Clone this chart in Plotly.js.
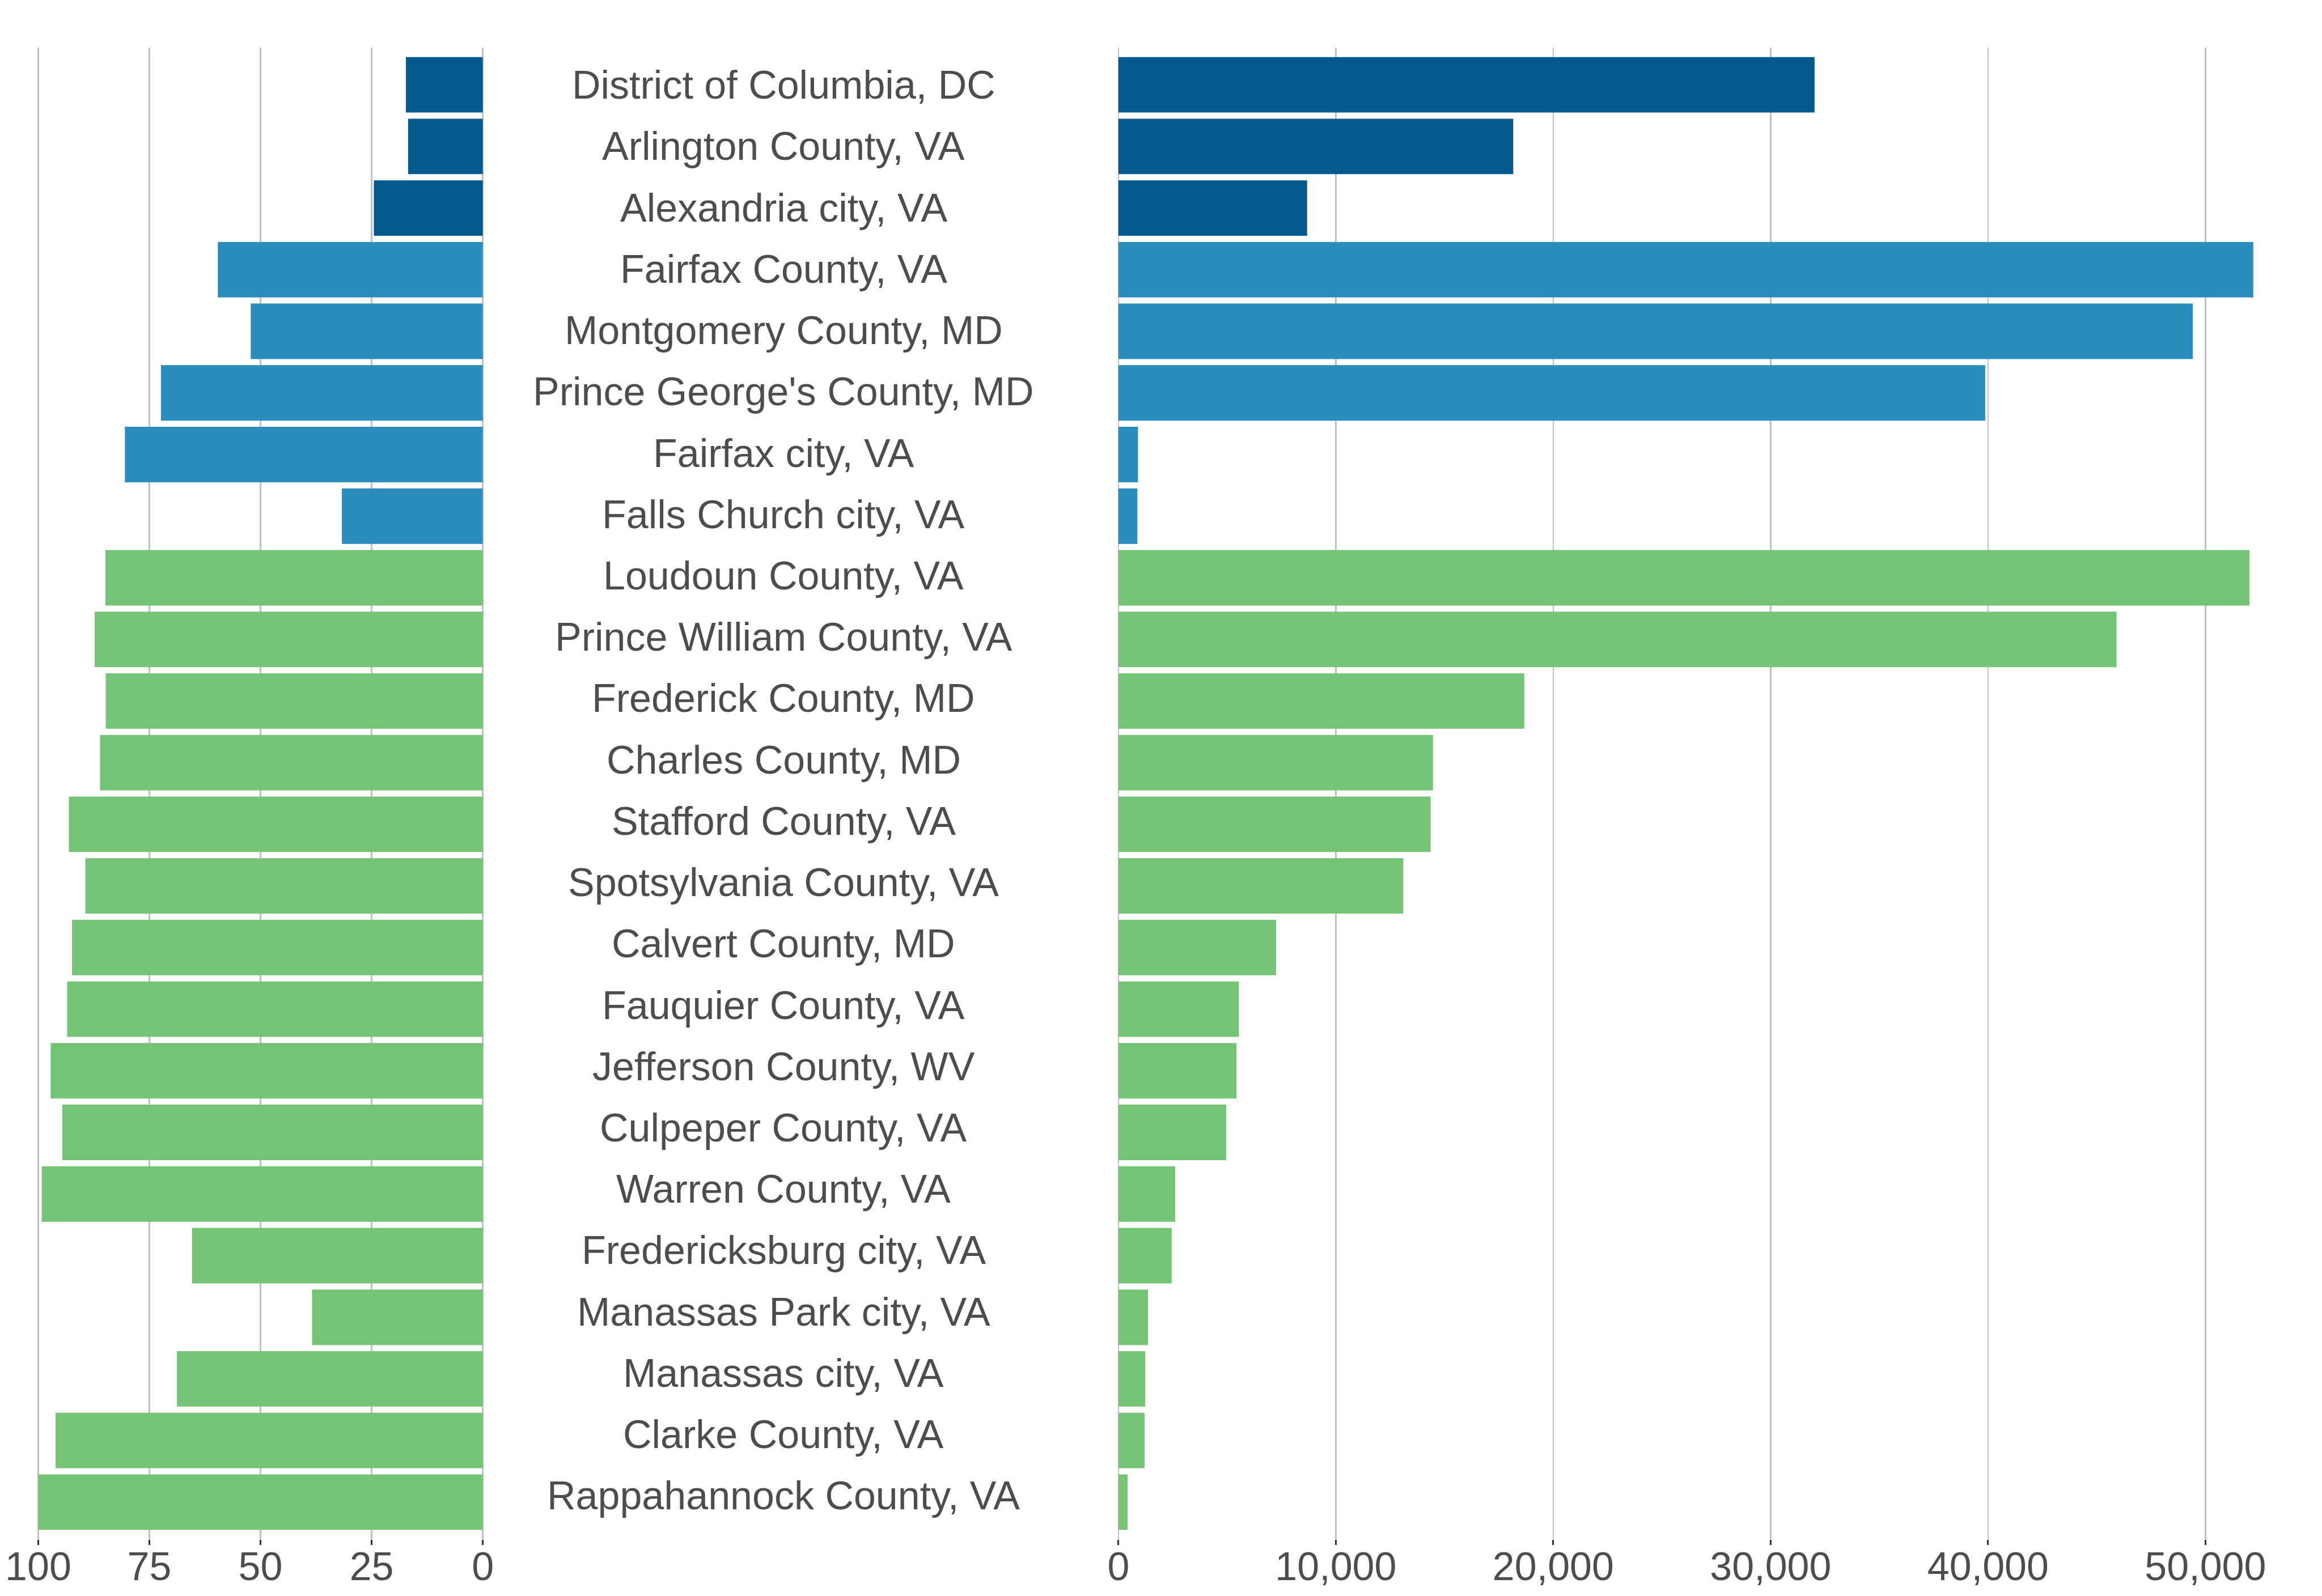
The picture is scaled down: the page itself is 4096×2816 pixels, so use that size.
<!DOCTYPE html>
<html>
<head>
<meta charset="utf-8">
<script src="https://cdn.plot.ly/plotly-3.0.1.min.js"></script>
<style>html,body{margin:0;padding:0;background:#fff;}#chart{width:4096px;height:2816px;}</style>
</head>
<body>
<div id="chart"></div>
<script>
// ---- data ----
const counties = [
  "District of Columbia, DC", "Arlington County, VA", "Alexandria city, VA",
  "Fairfax County, VA", "Montgomery County, MD", "Prince George's County, MD",
  "Fairfax city, VA", "Falls Church city, VA", "Loudoun County, VA",
  "Prince William County, VA", "Frederick County, MD", "Charles County, MD",
  "Stafford County, VA", "Spotsylvania County, VA", "Calvert County, MD",
  "Fauquier County, VA", "Jefferson County, WV", "Culpeper County, VA",
  "Warren County, VA", "Fredericksburg city, VA", "Manassas Park city, VA",
  "Manassas city, VA", "Clarke County, VA", "Rappahannock County, VA"
];
const groups = [
  "core", "core", "core",
  "inner", "inner", "inner", "inner", "inner",
  "outer", "outer", "outer", "outer", "outer", "outer", "outer", "outer",
  "outer", "outer", "outer", "outer", "outer", "outer", "outer", "outer"
];
const leftValues = [
  17.3, 16.8, 24.5,
  59.6, 52.2, 72.4, 80.5, 31.7,
  84.9, 87.3, 84.8, 86.1, 93.1, 89.4, 92.4, 93.5,
  97.2, 94.6, 99.2, 65.4, 38.4, 68.8, 96.1, 100
];
const rightValues = [
  32020, 18160, 8680,
  52200, 49420, 39870, 900, 870,
  52030, 45910, 18670, 14470, 14360, 13100, 7250, 5540,
  5430, 4960, 2610, 2450, 1360, 1230, 1200, 420
];
const leftTicks = [0, 25, 50, 75, 100];
const rightTicks = [0, 10000, 20000, 30000, 40000, 50000];
const groupColors = { core: "#045A8D", inner: "#2B8CBE", outer: "#74C476" };

// ---- styling ----
const S = 4096 / 4800;
const FONT = "Liberation Sans, Arial, Helvetica, sans-serif";
const TXT = "#4D4D4D";
const GRID = "#C0C0C0";
const colors = groups.map(g => groupColors[g]);
const yDomain = [(3300 - 3182.4) / 3300, (3300 - 98.9) / 3300];

const traces = [
  {
    type: "bar", orientation: "h", y: counties, x: leftValues,
    xaxis: "x", yaxis: "y", marker: { color: colors, line: { width: 0 } },
    hoverinfo: "x+y", showlegend: false
  },
  {
    type: "bar", orientation: "h", y: counties, x: rightValues,
    xaxis: "x2", yaxis: "y2", marker: { color: colors, line: { width: 0 } },
    hoverinfo: "x+y", showlegend: false
  }
];

const xCommon = {
  showgrid: true, gridcolor: GRID, gridwidth: 2.5,
  zeroline: false, showline: false,
  ticks: "outside", ticklen: 11 * S, tickwidth: 3, tickcolor: "#333333",
  ticklabelstandoff: -22,
  tickfont: { family: FONT, size: 70, color: TXT },
  fixedrange: true
};
const yCommon = {
  type: "category", categoryorder: "array", categoryarray: counties,
  range: [23.6, -0.6], domain: yDomain,
  showgrid: false, zeroline: false, showline: false, showticklabels: false, ticks: "",
  fixedrange: true
};

const annotations = counties.map(c => ({
  xref: "paper", yref: "y3", x: 1620 / 4800, y: c, text: c,
  showarrow: false, xanchor: "center", yanchor: "middle",
  font: { family: FONT, size: 70, color: TXT }
}));

const layout = {
  width: 4096, height: 2816,
  margin: { l: 0, r: 0, t: 0, b: 0, pad: 0 },
  paper_bgcolor: "#FFFFFF", plot_bgcolor: "rgba(0,0,0,0)",
  bargap: 0.1, showlegend: false,
  font: { family: FONT, color: TXT },
  xaxis: Object.assign({}, xCommon, {
    domain: [33.05 / 4800, 1043.95 / 4800], range: [105, -5],
    tickmode: "array", tickvals: leftTicks, ticktext: leftTicks.map(String),
    anchor: "y"
  }),
  xaxis2: Object.assign({}, xCommon, {
    domain: [2194.7 / 4800, 4775.2 / 4800], range: [-2610, 54810],
    tickmode: "array", tickvals: rightTicks,
    ticktext: rightTicks.map(v => v.toLocaleString("en-US")),
    anchor: "y2"
  }),
  xaxis3: {
    domain: [1044 / 4800, 2194 / 4800], range: [0, 1], visible: false, anchor: "y3", fixedrange: true
  },
  yaxis: Object.assign({}, yCommon, { anchor: "x" }),
  yaxis2: Object.assign({}, yCommon, { anchor: "x2" }),
  yaxis3: Object.assign({}, yCommon, { anchor: "x3", range: [23.705, -0.608], visible: false }),
  annotations: annotations
};

Plotly.newPlot("chart", traces, layout, { staticPlot: true, displayModeBar: false });
</script>
</body>
</html>
